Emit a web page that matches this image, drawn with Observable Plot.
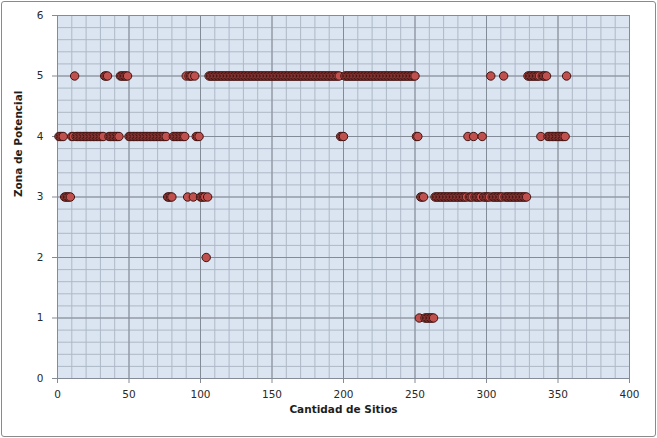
<!DOCTYPE html>
<html>
<head>
<meta charset="utf-8">
<script src="https://cdn.jsdelivr.net/npm/d3@7"></script>
<script src="https://cdn.jsdelivr.net/npm/@observablehq/plot@0.6"></script>
<style>
  html, body { margin: 0; padding: 0; background: #fff; }
  #chart svg { display: block; margin: 1px; border: 1px solid #8a8a8a; border-radius: 3px; }
</style>
</head>
<body>
<div id="chart"></div>
<script>
// Zona de potencial para cada sitio (sitio = posición 1..356)
const zona = [
  4,4,4,4,3,3,3,3,3,4,
  4,5,4,4,4,4,4,4,4,4,
  4,4,4,4,4,4,4,4,4,4,
  4,4,5,5,5,4,4,4,4,4,
  4,4,4,5,5,5,5,5,5,4,
  4,4,4,4,4,4,4,4,4,4,
  4,4,4,4,4,4,4,4,4,4,
  4,4,4,4,4,4,3,3,3,3,
  4,4,4,4,4,4,4,4,4,5,
  3,5,5,5,3,5,4,4,4,3,
  3,3,3,2,3,5,5,5,5,5,
  5,5,5,5,5,5,5,5,5,5,
  5,5,5,5,5,5,5,5,5,5,
  5,5,5,5,5,5,5,5,5,5,
  5,5,5,5,5,5,5,5,5,5,
  5,5,5,5,5,5,5,5,5,5,
  5,5,5,5,5,5,5,5,5,5,
  5,5,5,5,5,5,5,5,5,5,
  5,5,5,5,5,5,5,5,5,5,
  5,5,5,5,5,5,5,4,4,4,
  5,5,5,5,5,5,5,5,5,5,
  5,5,5,5,5,5,5,5,5,5,
  5,5,5,5,5,5,5,5,5,5,
  5,5,5,5,5,5,5,5,5,5,
  5,5,5,5,5,5,5,5,5,5,
  4,4,1,3,3,3,1,1,1,1,
  1,1,1,3,3,3,3,3,3,3,
  3,3,3,3,3,3,3,3,3,3,
  3,3,3,3,3,3,4,3,3,3,
  4,3,3,3,3,3,4,3,3,3,
  3,3,5,3,3,3,3,3,3,3,
  3,5,3,3,3,3,3,3,3,3,
  3,3,3,3,3,3,3,3,5,5,
  5,5,5,5,5,5,5,4,5,5,
  5,5,4,4,4,4,4,4,4,4,
  4,4,4,4,4,5
];
const xTicks = [0, 50, 100, 150, 200, 250, 300, 350, 400];
const yTicks = [0, 1, 2, 3, 4, 5, 6];
const xMinor = d3.range(0, 401, 10);
const yMinor = d3.range(0, 6.001, 0.2);
const xTitle = "Cantidad de Sitios";
const yTitle = "Zona de Potencial";

const data = zona.map((z, i) => ({sitio: i + 1, zona: z}));

const chart = Plot.plot({
  width: 653,
  height: 434,
  marginLeft: 55,
  marginRight: 26,
  marginTop: 13,
  marginBottom: 58,
  style: {fontFamily: "DejaVu Sans, sans-serif", fontSize: "10.5px", color: "#2a2a2a", background: "#fff"},
  x: {domain: [0, 400]},
  y: {domain: [0, 6]},
  marks: [
    Plot.frame({fill: "#dbe5f1", stroke: null}),
    Plot.ruleX(xMinor, {stroke: "#aeb8c6", strokeWidth: 1}),
    Plot.ruleY(yMinor, {stroke: "#aeb8c6", strokeWidth: 1}),
    Plot.ruleX(xTicks, {stroke: "#838b96", strokeWidth: 1}),
    Plot.ruleY(yTicks, {stroke: "#838b96", strokeWidth: 1}),
    Plot.axisX({ticks: xTicks, tickFormat: "d", tickSize: 5, tickPadding: 7, label: null, stroke: "#838b96"}),
    Plot.axisY({ticks: yTicks, tickFormat: "d", tickSize: 5, tickPadding: 9, label: null, stroke: "#838b96"}),
    Plot.text([xTitle], {frameAnchor: "bottom", dy: 34, fontWeight: "bold", fontSize: 10.5, fill: "#1e1e1e"}),
    Plot.text([yTitle], {frameAnchor: "left", dx: -39, rotate: -90, fontWeight: "bold", fontSize: 10.5, fill: "#1e1e1e"}),
    Plot.dot(data, {x: "sitio", y: "zona", r: 4.2, fill: "#c0504d", stroke: "#3f1412", strokeWidth: 1})
  ]
});
document.getElementById("chart").appendChild(chart);
</script>
</body>
</html>
